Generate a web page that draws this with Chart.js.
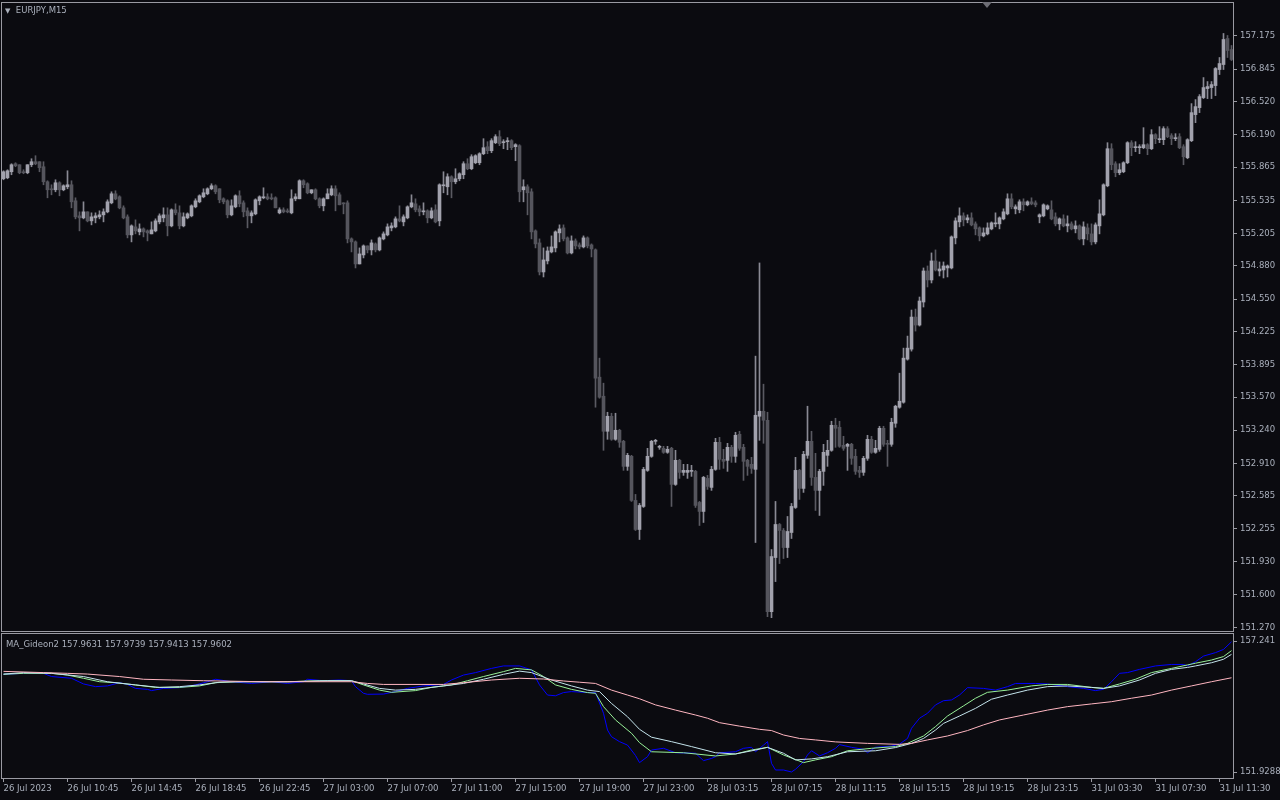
<!DOCTYPE html>
<html>
<head>
<meta charset="utf-8">
<title>EURJPY,M15</title>
<script src="https://cdn.jsdelivr.net/npm/chart.js@4.4.0/dist/chart.umd.min.js"></script>
<style>
  html, body { margin: 0; padding: 0; background: #0b0b10; }
  #wrap { position: relative; width: 1280px; height: 800px; overflow: hidden; background: #0b0b10; font-family: "DejaVu Sans", sans-serif; }
  #wrap canvas { position: absolute; left: 0; }
  #main { top: 0; }
  #sub { top: 632px; }
  .lbl { position: absolute; color: #aab0bc; font-size: 8.5px; line-height: 10px; white-space: nowrap; }
</style>
</head>
<body>
<div id="wrap">
  <canvas id="main" width="1280" height="632"></canvas>
  <canvas id="sub" width="1280" height="168"></canvas>
  <div class="lbl" style="left:5px;top:5px"><span style="font-size:7px">▼</span>&nbsp; EURJPY,M15</div>
  <div class="lbl" style="left:6px;top:639px">MA_Gideon2 157.9631 157.9739 157.9413 157.9602</div>
</div>
<script>
// EURJPY M15, 308 bars
const opens = [
  155.75,155.76,155.82,155.90,155.89,155.82,155.81,155.89,155.92,155.92,
  155.87,155.72,155.65,155.64,155.71,155.64,155.67,155.69,155.53,155.38,
  155.36,155.42,155.33,155.36,155.37,155.39,155.42,155.51,155.60,155.57,
  155.46,155.37,155.19,155.27,155.22,155.25,155.23,155.20,155.23,155.32,
  155.36,155.39,155.28,155.44,155.41,155.28,155.36,155.38,155.47,155.52,
  155.57,155.60,155.65,155.68,155.65,155.55,155.53,155.39,155.47,155.58,
  155.51,155.43,155.38,155.40,155.53,155.56,155.57,155.56,155.56,155.41,
  155.44,155.43,155.41,155.55,155.55,155.73,155.70,155.61,155.64,155.55,
  155.48,155.55,155.59,155.65,155.59,155.51,155.51,155.15,155.12,154.90,
  154.99,155.08,155.04,155.10,155.04,155.15,155.19,155.26,155.27,155.35,
  155.32,155.36,155.47,155.50,155.45,155.42,155.43,155.36,155.44,155.33,
  155.68,155.67,155.77,155.72,155.75,155.79,155.90,155.85,155.91,155.91,
  156.00,156.07,156.03,156.11,156.17,156.11,156.12,156.13,156.07,156.08,
  155.64,155.67,155.62,155.23,155.11,154.82,154.93,155.02,155.06,155.21,
  155.26,155.16,155.01,155.13,155.09,155.07,155.16,155.09,155.04,153.77,
  153.58,153.23,153.38,153.15,153.24,153.13,152.88,152.98,152.54,152.25,
  152.48,152.84,152.98,153.13,153.07,153.06,153.02,153.06,152.70,152.94,
  152.82,152.82,152.83,152.83,152.52,152.43,152.76,152.67,152.85,153.12,
  152.95,152.94,153.07,152.98,153.20,153.07,152.94,152.90,152.85,153.38,
  153.43,153.34,151.43,151.97,152.30,152.24,152.07,152.22,152.47,152.84,
  152.66,152.99,153.13,152.77,152.64,152.83,152.99,153.04,153.29,153.27,
  153.09,153.08,153.10,152.98,152.84,152.82,152.96,153.15,153.02,153.05,
  153.26,153.11,153.10,153.31,153.47,153.52,153.95,154.05,154.37,154.29,
  154.52,154.83,154.74,154.93,154.83,154.84,154.86,154.86,155.16,155.32,
  155.38,155.34,155.36,155.30,155.26,155.18,155.20,155.25,155.30,155.30,
  155.35,155.40,155.55,155.45,155.44,155.52,155.49,155.52,155.51,155.37,
  155.38,155.45,155.44,155.37,155.30,155.35,155.28,155.30,155.25,155.28,
  155.15,155.26,155.20,155.12,155.28,155.39,155.68,156.05,155.90,155.81,
  155.82,155.91,156.11,156.06,156.06,156.06,156.09,156.05,156.19,156.14,
  156.14,156.25,156.18,156.15,156.17,156.07,155.96,156.13,156.39,156.46,
  156.56,156.65,156.66,156.68,156.84,156.89,157.15,157.04
];
const highs = [
  155.83,155.84,155.90,155.91,155.89,155.84,155.89,155.95,155.98,155.92,
  155.92,155.73,155.69,155.74,155.72,155.69,155.83,155.73,155.56,155.42,
  155.52,155.42,155.41,155.41,155.43,155.45,155.54,155.62,155.63,155.58,
  155.48,155.39,155.29,155.34,155.30,155.26,155.24,155.32,155.35,155.40,
  155.46,155.46,155.45,155.50,155.48,155.41,155.41,155.49,155.55,155.59,
  155.65,155.66,155.70,155.69,155.65,155.56,155.54,155.54,155.59,155.63,
  155.53,155.46,155.43,155.55,155.58,155.66,155.60,155.60,155.57,155.46,
  155.46,155.45,155.64,155.60,155.74,155.74,155.71,155.64,155.65,155.56,
  155.56,155.65,155.68,155.68,155.61,155.51,155.53,155.16,155.13,155.06,
  155.09,155.08,155.14,155.11,155.17,155.22,155.30,155.31,155.37,155.48,
  155.39,155.48,155.59,155.55,155.48,155.51,155.44,155.46,155.49,155.70,
  155.82,155.80,155.78,155.85,155.81,155.92,155.95,155.99,155.99,156.01,
  156.15,156.12,156.15,156.19,156.23,156.14,156.16,156.14,156.10,156.09,
  155.74,155.69,155.65,155.24,155.15,155.06,155.07,155.18,155.23,155.29,
  155.29,155.17,155.18,155.15,155.11,155.18,155.17,155.10,155.05,153.96,
  153.71,153.42,153.41,153.41,153.25,153.14,153.01,152.99,152.60,152.51,
  152.87,153.06,153.14,153.15,153.09,153.08,153.08,153.07,153.04,152.95,
  152.90,152.90,152.89,152.84,152.53,152.78,152.79,152.88,153.16,153.17,
  153.05,153.11,153.09,153.22,153.23,153.10,152.95,152.97,153.98,154.91,
  153.70,153.42,152.05,152.53,152.31,152.26,152.38,152.51,152.97,152.85,
  153.03,153.48,153.23,153.01,152.85,153.10,153.14,153.33,153.36,153.33,
  153.18,153.11,153.11,153.05,152.88,152.98,153.19,153.18,153.14,153.28,
  153.28,153.14,153.36,153.49,153.81,154.06,154.18,154.44,154.45,154.57,
  154.86,154.88,155.01,155.04,154.92,154.92,154.89,155.18,155.36,155.46,
  155.41,155.39,155.41,155.32,155.27,155.26,155.31,155.32,155.41,155.37,
  155.45,155.60,155.60,155.49,155.54,155.55,155.53,155.56,155.53,155.40,
  155.50,155.49,155.53,155.41,155.36,155.39,155.38,155.32,155.33,155.29,
  155.32,155.30,155.30,155.31,155.54,155.70,156.11,156.10,155.92,155.90,
  155.92,156.12,156.13,156.12,156.09,156.26,156.10,156.24,156.20,156.27,
  156.27,156.27,156.20,156.20,156.20,156.09,156.15,156.50,156.54,156.59,
  156.76,156.72,156.72,156.86,156.96,157.20,157.18,157.08
];
const lows = [
  155.74,155.75,155.79,155.87,155.80,155.80,155.80,155.87,155.89,155.82,
  155.69,155.56,155.59,155.62,155.58,155.63,155.65,155.46,155.35,155.23,
  155.35,155.32,155.29,155.31,155.35,155.32,155.41,155.50,155.54,155.45,
  155.35,155.16,155.12,155.20,155.19,155.17,155.13,155.20,155.22,155.30,
  155.32,155.18,155.27,155.39,155.25,155.27,155.35,155.37,155.46,155.51,
  155.56,155.59,155.64,155.60,155.51,155.50,155.36,155.38,155.46,155.47,
  155.37,155.26,155.31,155.39,155.49,155.55,155.54,155.54,155.46,155.40,
  155.41,155.41,155.40,155.53,155.55,155.66,155.60,155.60,155.54,155.46,
  155.43,155.55,155.58,155.43,155.49,155.40,155.11,155.02,154.86,154.90,
  154.96,155.01,154.99,155.02,155.03,155.14,155.18,155.23,155.26,155.32,
  155.28,155.35,155.46,155.42,155.38,155.39,155.31,155.35,155.31,155.28,
  155.61,155.59,155.56,155.70,155.73,155.75,155.84,155.84,155.90,155.89,
  155.99,156.00,156.01,156.10,156.08,156.05,156.04,156.04,155.93,155.52,
  155.52,155.39,155.15,155.06,154.79,154.77,154.90,155.01,155.02,155.12,
  155.13,155.00,155.00,155.05,155.05,155.06,155.06,154.97,153.47,153.56,
  153.04,153.15,153.14,153.14,153.07,152.84,152.84,152.53,152.24,152.15,
  152.47,152.83,152.97,153.10,153.05,153.01,153.01,152.48,152.69,152.76,
  152.79,152.76,152.78,152.47,152.29,152.32,152.65,152.64,152.84,152.85,
  152.86,152.83,152.92,152.92,153.04,152.74,152.79,152.81,152.12,153.14,
  153.11,151.38,151.37,151.73,151.91,151.96,151.97,152.16,152.46,152.55,
  152.62,152.96,152.69,152.44,152.39,152.69,152.88,153.03,153.07,153.07,
  153.04,152.84,152.90,152.80,152.77,152.79,152.94,153.01,153.01,153.03,
  153.08,152.88,153.08,153.27,153.46,153.51,153.94,154.03,154.23,154.28,
  154.47,154.67,154.71,154.83,154.78,154.76,154.77,154.85,155.10,155.27,
  155.28,155.31,155.28,155.19,155.13,155.17,155.19,155.24,155.27,155.25,
  155.34,155.39,155.45,155.40,155.41,155.43,155.48,155.49,155.47,155.31,
  155.37,155.44,155.34,155.28,155.24,155.27,155.22,155.24,155.21,155.14,
  155.09,155.14,155.09,155.10,155.20,155.38,155.67,155.84,155.77,155.79,
  155.81,155.90,155.98,156.02,156.00,156.05,155.99,156.04,156.10,156.11,
  156.09,156.16,156.09,156.13,156.05,155.89,155.95,156.12,156.31,156.41,
  156.55,156.55,156.55,156.58,156.79,156.84,156.96,156.93
];
const closes = [
  155.82,155.83,155.89,155.88,155.81,155.81,155.89,155.92,155.90,155.86,
  155.72,155.64,155.64,155.71,155.64,155.68,155.69,155.52,155.37,155.36,
  155.42,155.33,155.37,155.38,155.39,155.42,155.52,155.60,155.55,155.46,
  155.36,155.19,155.28,155.23,155.25,155.22,155.21,155.24,155.33,155.38,
  155.39,155.28,155.44,155.41,155.28,155.37,155.40,155.48,155.53,155.58,
  155.61,155.65,155.68,155.62,155.54,155.52,155.39,155.48,155.58,155.50,
  155.42,155.38,155.41,155.54,155.57,155.57,155.55,155.55,155.46,155.44,
  155.42,155.42,155.55,155.57,155.73,155.69,155.61,155.64,155.55,155.48,
  155.55,155.60,155.65,155.58,155.49,155.50,155.15,155.12,154.90,155.00,
  155.08,155.04,155.11,155.04,155.16,155.20,155.27,155.28,155.35,155.33,
  155.37,155.47,155.51,155.44,155.42,155.43,155.36,155.43,155.32,155.69,
  155.69,155.77,155.72,155.75,155.80,155.90,155.85,155.97,155.98,156.00,
  156.06,156.03,156.13,156.17,156.10,156.12,156.13,156.06,156.09,155.62,
  155.67,155.61,155.22,155.10,154.82,154.94,155.03,155.07,155.22,155.25,
  155.15,155.01,155.13,155.08,155.07,155.16,155.08,155.05,153.76,153.57,
  153.23,153.38,153.15,153.24,153.12,152.88,152.99,152.54,152.25,152.49,
  152.85,152.98,153.13,153.14,153.08,153.02,153.05,152.70,152.94,152.82,
  152.84,152.84,152.84,152.49,152.43,152.77,152.68,152.85,153.12,152.95,
  152.93,153.07,152.98,153.19,153.06,152.93,152.88,152.86,153.39,153.43,
  153.34,151.43,151.98,152.30,152.24,152.07,152.23,152.48,152.84,152.66,
  153.00,153.13,152.77,152.64,152.83,153.02,153.04,153.29,153.26,153.08,
  153.06,153.10,152.96,152.83,152.82,152.96,153.15,153.02,153.06,153.26,
  153.10,153.10,153.32,153.48,153.53,153.96,154.06,154.37,154.29,154.53,
  154.83,154.74,154.93,154.84,154.85,154.88,154.88,155.17,155.33,155.38,
  155.34,155.36,155.29,155.25,155.18,155.21,155.26,155.31,155.31,155.36,
  155.42,155.55,155.47,155.47,155.52,155.49,155.52,155.50,155.49,155.39,
  155.49,155.48,155.35,155.30,155.35,155.28,155.30,155.25,155.28,155.15,
  155.27,155.20,155.12,155.29,155.40,155.69,156.05,155.89,155.81,155.84,
  155.91,156.11,156.06,156.07,156.07,156.09,156.05,156.19,156.15,156.15,
  156.25,156.17,156.15,156.16,156.06,155.97,156.14,156.41,156.47,156.57,
  156.66,156.67,156.69,156.85,156.90,157.14,157.03,156.94
];

// price axis labels (main window)
const priceTicks = [157.175,156.845,156.520,156.190,155.865,155.535,155.205,154.880,154.550,
  154.225,153.895,153.570,153.240,152.910,152.585,152.255,151.930,151.600,151.270];

// time axis: bar number of each label and its text
const timeTickBars = [0,16,32,48,64,80,96,112,128,144,160,176,192,208,224,240,256,272,288,304];
const timeLabels = ['26 Jul 2023','26 Jul 10:45','26 Jul 14:45','26 Jul 18:45','26 Jul 22:45',
  '27 Jul 03:00','27 Jul 07:00','27 Jul 11:00','27 Jul 15:00','27 Jul 19:00','27 Jul 23:00',
  '28 Jul 03:15','28 Jul 07:15','28 Jul 11:15','28 Jul 15:15','28 Jul 19:15','28 Jul 23:15',
  '31 Jul 03:30','31 Jul 07:30','31 Jul 11:30'];

// MA_Gideon2 subwindow, [bar, value]
const blueLine = [[0,155.89],[5,155.93],[10,155.93],[12,155.80],[17,155.73],[20,155.50],[23,155.39],
  [26,155.42],[29,155.55],[31,155.48],[33,155.32],[36,155.28],[37,155.23],[40,155.32],[44,155.35],
  [48,155.46],[51,155.59],[53,155.69],[57,155.59],[62,155.52],[67,155.59],[71,155.52],[75,155.59],
  [76,155.69],[80,155.63],[84,155.66],[87,155.63],[88,155.39],[90,155.12],[91,155.08],[95,155.09],
  [98,155.19],[101,155.32],[105,155.42],[110,155.48],[112,155.66],[115,155.86],[118,155.96],
  [122,156.13],[125,156.23],[129,156.23],[132,156.07],[134,155.46],[136,155.05],[138,155.02],
  [140,155.15],[142,155.19],[146,155.15],[148,155.15],[150,154.31],[151,153.63],[152,153.36],
  [154,153.16],[156,153.02],[158,152.60],[159,152.31],[161,152.55],[162,152.82],[165,152.89],
  [168,152.71],[173,152.69],[175,152.39],[177,152.48],[178,152.55],[179,152.71],[183,152.75],
  [185,152.89],[187,152.93],[188,152.75],[190,153.02],[191,153.16],[192,152.28],[193,152.01],
  [195,152.01],[197,151.93],[198,152.04],[200,152.35],[201,152.62],[202,152.79],[204,152.58],
  [206,152.71],[208,152.89],[209,153.04],[212,152.93],[215,152.85],[216,152.71],[218,152.93],
  [222,152.98],[224,153.06],[226,153.29],[227,153.70],[229,154.11],[231,154.31],[233,154.65],
  [235,154.82],[237,154.85],[239,155.05],[241,155.35],[245,155.32],[248,155.25],[251,155.39],
  [253,155.52],[258,155.52],[261,155.50],[266,155.39],[270,155.32],[273,155.23],[275,155.28],
  [277,155.59],[279,155.93],[281,155.96],[284,156.09],[288,156.23],[292,156.29],[295,156.29],
  [296,156.23],[298,156.40],[300,156.63],[303,156.77],[305,156.90],[307,157.21]];
const greenLine = [[0,155.89],[5,155.93],[12,155.93],[16,155.86],[20,155.73],[24,155.59],[28,155.55],
  [33,155.46],[38,155.36],[44,155.36],[49,155.42],[53,155.55],[58,155.59],[71,155.59],[79,155.63],
  [87,155.63],[90,155.46],[94,155.25],[97,155.16],[103,155.23],[107,155.36],[112,155.46],
  [116,155.63],[120,155.80],[125,156.00],[128,156.13],[132,156.07],[135,155.80],[138,155.46],
  [142,155.28],[146,155.15],[148,155.12],[150,154.58],[153,154.04],[157,153.50],[159,153.12],
  [162,152.75],[170,152.71],[178,152.58],[183,152.66],[187,152.82],[191,152.93],[195,152.62],
  [200,152.31],[203,152.42],[207,152.55],[211,152.79],[217,152.89],[223,152.96],[226,153.09],
  [230,153.39],[233,153.77],[236,154.20],[240,154.61],[243,154.92],[246,155.16],[251,155.25],
  [257,155.42],[261,155.48],[266,155.48],[272,155.36],[275,155.32],[279,155.50],[283,155.69],
  [287,155.96],[292,156.13],[296,156.27],[298,156.34],[302,156.47],[305,156.61],[307,156.85]];
const whiteLine = [[0,155.90],[5,155.96],[12,155.93],[20,155.80],[26,155.59],[33,155.46],[39,155.36],
  [44,155.39],[49,155.46],[54,155.57],[60,155.59],[71,155.59],[81,155.63],[87,155.63],[90,155.50],
  [94,155.32],[98,155.25],[103,155.28],[110,155.42],[115,155.52],[120,155.69],[125,155.89],
  [129,156.02],[132,155.96],[137,155.66],[142,155.42],[146,155.25],[149,155.19],[152,154.71],
  [156,154.17],[159,153.66],[162,153.34],[167,153.16],[172,152.96],[178,152.71],[183,152.66],
  [188,152.82],[191,152.93],[195,152.69],[198,152.42],[202,152.46],[206,152.55],[211,152.75],
  [218,152.79],[223,152.92],[227,153.09],[230,153.29],[233,153.63],[235,153.90],[239,154.20],
  [243,154.51],[247,154.88],[251,155.05],[256,155.25],[261,155.39],[266,155.42],[272,155.36],
  [275,155.32],[279,155.42],[284,155.66],[288,155.93],[292,156.09],[296,156.17],[298,156.23],
  [302,156.36],[305,156.50],[307,156.70]];
const pinkLine = [[0,156.01],[10,155.96],[16,155.93],[21,155.90],[29,155.80],[35,155.69],[42,155.66],
  [50,155.63],[65,155.59],[87,155.59],[91,155.52],[95,155.48],[110,155.48],[115,155.55],
  [122,155.66],[129,155.73],[135,155.70],[140,155.62],[144,155.57],[148,155.52],[152,155.25],
  [156,155.05],[159,154.90],[163,154.65],[168,154.44],[173,154.24],[176,154.11],[179,153.93],
  [184,153.79],[189,153.66],[192,153.61],[195,153.43],[199,153.29],[203,153.23],[208,153.15],
  [216,153.09],[224,153.05],[227,153.09],[231,153.23],[236,153.39],[241,153.61],[245,153.84],
  [249,154.04],[255,154.24],[261,154.44],[266,154.58],[272,154.69],[277,154.78],[282,154.92],
  [287,155.05],[292,155.25],[297,155.42],[302,155.59],[307,155.75]];
const subTicks = [151.9288, 157.241];
const subTickLabels = ['151.9288', '157.241'];

const BG = '#0b0b10';
const FRAME = '#9a9aa2';
const TEXT = '#aab0bc';
const BULL = '#a2a2ad';
const BEAR = '#55555d';

Chart.defaults.font.family = '"DejaVu Sans", sans-serif';
Chart.defaults.font.size = 8.5;
Chart.defaults.color = TEXT;
Chart.defaults.animation = false;

// grey frame around the plot area, like the terminal draws it
const framePlugin = {
  id: 'frame',
  afterDraw(chart, args, opts) {
    const { ctx, chartArea: a } = chart;
    ctx.save();
    ctx.strokeStyle = FRAME;
    ctx.lineWidth = 1;
    ctx.strokeRect(a.left - 0.5, a.top - 0.5, a.right - a.left + 1, a.bottom - a.top + 1);
    if (opts.shiftMark) {
      // chart shift marker at the top edge
      const mx = a.right - 246;
      ctx.fillStyle = '#6e6e76';
      ctx.beginPath();
      ctx.moveTo(mx - 5, a.top - 1);
      ctx.lineTo(mx + 5, a.top - 1);
      ctx.lineTo(mx, a.top + 5);
      ctx.closePath();
      ctx.fill();
    }
    ctx.restore();
  }
};

// no extra room for the first/last tick labels, the terminal lets them overhang
const noPad = s => { s.paddingTop = 0; s.paddingBottom = 0; s.paddingLeft = 0; s.paddingRight = 0; };

const xMin = -0.375;
const xMax = 307.375;

// candles: bodies as floating bars, wicks as 1px floating bars
const bodyData = opens.map((o, i) => ({ x: i, y: [o, closes[i]] }));
const wickData = lows.map((l, i) => ({ x: i, y: [l, highs[i]] }));
const bodyColors = opens.map((o, i) => closes[i] >= o ? BULL : BEAR);
const wickColors = opens.map((o, i) => closes[i] >= o ? '#8a8a94' : '#5a5a62');

new Chart(document.getElementById('main'), {
  type: 'bar',
  data: {
    datasets: [
      {
        label: 'body',
        data: bodyData,
        backgroundColor: bodyColors,
        barThickness: 3,
        minBarLength: 1,
        grouped: false,
        borderWidth: 0
      },
      {
        label: 'wick',
        data: wickData,
        backgroundColor: wickColors,
        barThickness: 1,
        minBarLength: 1,
        grouped: false,
        borderWidth: 0
      }
    ]
  },
  options: {
    responsive: false,
    layout: { padding: { left: 2, top: 3, right: 0, bottom: 1 } },
    plugins: {
      legend: { display: false },
      tooltip: { enabled: false },
      frame: { shiftMark: true }
    },
    scales: {
      x: { type: 'linear', min: xMin, max: xMax, offset: false, display: false },
      y: {
        position: 'right',
        min: 151.237,
        max: 157.504,
        afterBuildTicks: s => { s.ticks = priceTicks.map(v => ({ value: v })); },
        afterFit: s => { s.width = 47; noPad(s); },
        ticks: { padding: 3, color: TEXT, callback: v => v.toFixed(3) },
        grid: { drawOnChartArea: false, drawTicks: true, tickLength: 4, color: FRAME },
        border: { display: false }
      }
    }
  },
  plugins: [framePlugin]
});

const toPts = arr => arr.map(p => ({ x: p[0], y: p[1] }));
const lineSet = (label, arr, color) => ({
  label: label,
  data: toPts(arr),
  borderColor: color,
  borderWidth: 1,
  pointRadius: 0,
  tension: 0,
  fill: false
});

new Chart(document.getElementById('sub'), {
  type: 'line',
  data: {
    datasets: [
      lineSet('pink', pinkLine, '#ffb6c1'),
      lineSet('white', whiteLine, '#c4e4ec'),
      lineSet('green', greenLine, '#98f098'),
      lineSet('blue', blueLine, '#0000ff')
    ]
  },
  options: {
    responsive: false,
    layout: { padding: { left: 2, top: 2, right: 0, bottom: 0 } },
    plugins: {
      legend: { display: false },
      tooltip: { enabled: false },
      frame: { shiftMark: false }
    },
    scales: {
      x: {
        type: 'linear',
        min: xMin,
        max: xMax,
        offset: false,
        afterBuildTicks: s => { s.ticks = timeTickBars.map(v => ({ value: v })); },
        afterFit: s => { s.height = 22; noPad(s); },
        ticks: {
          align: 'start',
          autoSkip: false,
          maxRotation: 0,
          padding: 2,
          color: TEXT,
          callback: (v, i) => timeLabels[i]
        },
        grid: { drawOnChartArea: false, drawTicks: true, tickLength: 4, color: FRAME },
        border: { display: false }
      },
      y: {
        position: 'right',
        min: 151.686,
        max: 157.525,
        afterBuildTicks: s => { s.ticks = subTicks.map(v => ({ value: v })); },
        afterFit: s => { s.width = 47; noPad(s); },
        ticks: { padding: 3, color: TEXT, callback: (v, i) => subTickLabels[i] },
        grid: { drawOnChartArea: false, drawTicks: true, tickLength: 4, color: FRAME },
        border: { display: false }
      }
    }
  },
  plugins: [framePlugin]
});
</script>
</body>
</html>
